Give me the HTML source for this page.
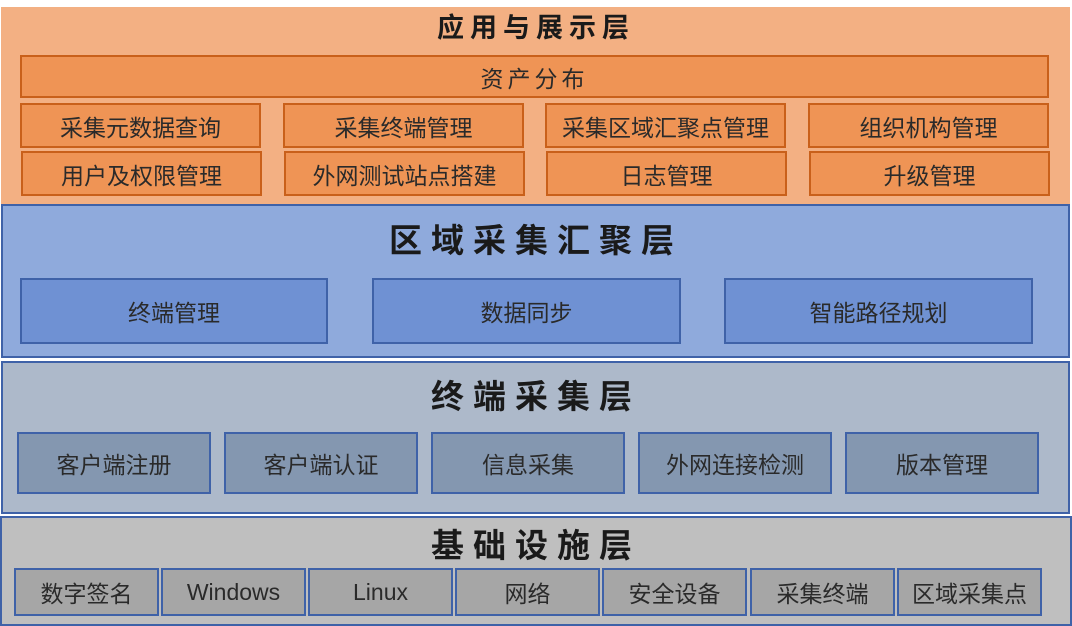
<!DOCTYPE html>
<html><head><meta charset="utf-8"><style>
body{margin:0;width:1072px;height:626px;background:#fff;position:relative;overflow:hidden;font-family:"Liberation Sans","Noto Sans CJK SC",sans-serif;}
.l{position:absolute;box-sizing:border-box;}
.b{position:absolute;box-sizing:border-box;display:flex;align-items:center;justify-content:center;color:#2a2a2a;font-size:23px;}
.t{position:absolute;left:0;width:1072px;text-align:center;font-weight:bold;color:#1a1a1a;}
.o{background:#ef9455;border:2px solid #c9601a;}
.bl{background:#6f91d3;border:2px solid #3f62a8;}
.g{background:#8497b0;border:2px solid #3f62a8;}
.h{background:#a6a6a6;border:2px solid #3f62a8;}
</style></head><body>
<div class="l" style="left:1px;top:7px;width:1069px;height:197px;background:#f3b083;"></div>
<div class="l" style="left:1px;top:204px;width:1069px;height:154px;background:#8faadc;border:2px solid #3f62a8;"></div>
<div class="l" style="left:1px;top:361px;width:1069px;height:153px;background:#adb9ca;border:2px solid #3f62a8;"></div>
<div class="l" style="left:0;top:516px;width:1072px;height:110px;background:#bfbfbf;border:2px solid #3f62a8;"></div>

<div class="t" style="top:6px;font-size:27px;letter-spacing:6px;">应用与展示层</div>
<div class="t" style="top:214px;font-size:33px;letter-spacing:9px;">区域采集汇聚层</div>
<div class="t" style="top:370px;font-size:33px;letter-spacing:9px;">终端采集层</div>
<div class="t" style="top:519px;font-size:33px;letter-spacing:9px;">基础设施层</div>

<div class="b o" style="left:20px;top:55px;width:1029px;height:43px;letter-spacing:4px;">资产分布</div>
<div class="b o" style="left:20px;top:103px;width:241px;height:45px;">采集元数据查询</div>
<div class="b o" style="left:283px;top:103px;width:241px;height:45px;">采集终端管理</div>
<div class="b o" style="left:545px;top:103px;width:241px;height:45px;">采集区域汇聚点管理</div>
<div class="b o" style="left:808px;top:103px;width:241px;height:45px;">组织机构管理</div>
<div class="b o" style="left:21px;top:151px;width:241px;height:45px;">用户及权限管理</div>
<div class="b o" style="left:284px;top:151px;width:241px;height:45px;">外网测试站点搭建</div>
<div class="b o" style="left:546px;top:151px;width:241px;height:45px;">日志管理</div>
<div class="b o" style="left:809px;top:151px;width:241px;height:45px;">升级管理</div>

<div class="b bl" style="left:20px;top:278px;width:308px;height:66px;">终端管理</div>
<div class="b bl" style="left:372px;top:278px;width:309px;height:66px;">数据同步</div>
<div class="b bl" style="left:724px;top:278px;width:309px;height:66px;">智能路径规划</div>

<div class="b g" style="left:17px;top:432px;width:194px;height:62px;">客户端注册</div>
<div class="b g" style="left:224px;top:432px;width:194px;height:62px;">客户端认证</div>
<div class="b g" style="left:431px;top:432px;width:194px;height:62px;">信息采集</div>
<div class="b g" style="left:638px;top:432px;width:194px;height:62px;">外网连接检测</div>
<div class="b g" style="left:845px;top:432px;width:194px;height:62px;">版本管理</div>

<div class="b h" style="left:14px;top:568px;width:145px;height:48px;">数字签名</div>
<div class="b h" style="left:161px;top:568px;width:145px;height:48px;">Windows</div>
<div class="b h" style="left:308px;top:568px;width:145px;height:48px;">Linux</div>
<div class="b h" style="left:455px;top:568px;width:145px;height:48px;">网络</div>
<div class="b h" style="left:602px;top:568px;width:145px;height:48px;">安全设备</div>
<div class="b h" style="left:750px;top:568px;width:145px;height:48px;">采集终端</div>
<div class="b h" style="left:897px;top:568px;width:145px;height:48px;">区域采集点</div>
</body></html>
